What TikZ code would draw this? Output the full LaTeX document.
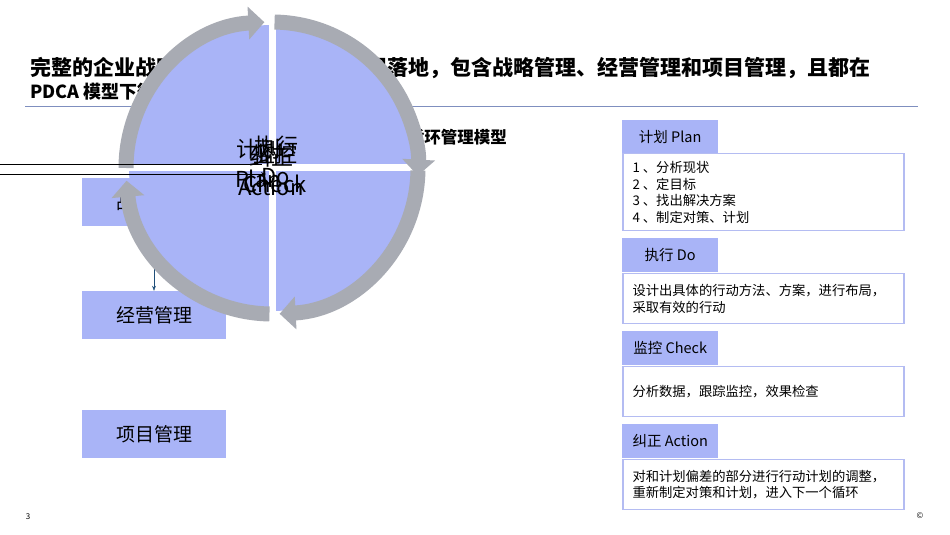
\documentclass[tikz,border=0pt]{standalone}
\usepackage{fontspec}
\setmainfont{Noto Sans CJK SC}
\usetikzlibrary{arrows.meta,calc}
\definecolor{qfill}{HTML}{A9B4F7}
\definecolor{ring}{HTML}{A8ABB3}
\definecolor{rule}{HTML}{7F8FBF}
\definecolor{bord}{HTML}{B4BCF2}
\definecolor{dkb}{HTML}{1F4E79}
\tikzset{
 lbox/.style={fill=qfill,minimum width=144pt,minimum height=48pt,inner sep=0pt,font=\fontsize{19}{22}\selectfont},
 hbox/.style={fill=qfill,minimum width=96pt,minimum height=34pt,inner sep=0pt,anchor=north west,font=\fontsize{14.5}{17}\selectfont},
 bbox/.style={draw=bord,line width=1.5pt,fill=white,minimum width=281pt,anchor=north west,inner sep=0pt},
 btxt/.style={anchor=west,align=left,font=\fontsize{13.3}{16.5}\selectfont},
 arcarrow/.style={ring,line width=15pt,-{Triangle[width=32pt,length=16pt]}},
 ctxt/.style={font=\fontsize{22}{30}\selectfont,align=center,inner sep=0pt}
}
\begin{document}
\begin{tikzpicture}[x=1pt,y=1pt]
\useasboundingbox[fill=white] (0,0) rectangle (950,535);
% title
\node[anchor=west,inner sep=0pt,font=\fontsize{21}{23}\bfseries\selectfont] (t1) at (30,467) {完整的企业战略管理体系需要逐级层层落地，包含战略管理、经营管理和项目管理，且都在};
\node[anchor=west,inner sep=0pt,font=\fontsize{18}{20}\bfseries\selectfont] (t2) at (30,443) {PDCA 模型下循环改进与持续优化};
\draw[rule,line width=1pt] (25,428) -- (918,428);
\node[anchor=east,inner sep=0pt,font=\fontsize{16.5}{18}\bfseries\selectfont] (st) at (507,398) {PDCA 循环管理模型};
% left boxes
\node[lbox] (b1) at (154,333) {战略管理};
\node[lbox] (b2) at (154,220) {经营管理};
\node[lbox] (b3) at (154,101) {项目管理};
\draw[dkb,-{Stealth[length=5pt]}] (154,280) -- (b2.north);
% circle
\coordinate (c) at (272,367);
\fill[qfill] (c) circle[radius=143];
\draw[white,line width=7pt] (272,218) -- (272,516);
\draw[white,line width=7pt] (123,367) -- (421,367);
\draw[arcarrow] ($(c)+(180:146)$) arc[start angle=180,end angle=93,radius=146];
\draw[arcarrow] ($(c)+(89:146)$) arc[start angle=89,end angle=-3,radius=146];
\draw[arcarrow] ($(c)+(-1:146)$) arc[start angle=-1,end angle=-87,radius=146];
\draw[arcarrow] ($(c)+(-91:146)$) arc[start angle=-91,end angle=-175,radius=146];
% lines from left
\coordinate (l1) at (0,371);
\coordinate (l1e) at (262,371);
\coordinate (l2) at (0,361);
\coordinate (l2e) at (266,361);
\draw[black,line width=0.8pt] (l1) -- (l1e);
\draw[black,line width=0.8pt,-{Stealth[length=5pt]}] (l2) -- (l2e);
% center texts
\node[ctxt] (p) at (258,372) {计划\\Plan};
\node[ctxt] (d) at (276,375) {执行\\Do};
\node[ctxt] (k) at (275,367) {监控\\Check};
\node[ctxt] (a) at (271,364) {纠正\\Action};
% right column
\node[hbox] (h1) at (622,415) {计划 Plan};
\node[bbox,minimum height=77pt] (r1) at (622,382) {};
\node[btxt] (r1t) at ([xshift=7pt]r1.west) {1 、分析现状\\2 、定目标\\3 、找出解决方案\\4 、制定对策、计划};
\node[hbox] (h2) at (622,297) {执行 Do};
\node[bbox,minimum height=50pt] (r2) at (622,262) {};
\node[btxt] (r2t) at ([xshift=7pt]r2.west) {设计出具体的行动方法、方案，进行布局，\\采取有效的行动};
\node[hbox] (h3) at (622,204) {监控 Check};
\node[bbox,minimum height=50pt] (r3) at (622,169) {};
\node[btxt] (r3t) at ([xshift=7pt]r3.west) {分析数据，跟踪监控，效果检查};
\node[hbox] (h4) at (622,111) {纠正 Action};
\node[bbox,minimum height=50pt] (r4) at (622,76) {};
\node[btxt] (r4t) at ([xshift=7pt]r4.west) {对和计划偏差的部分进行行动计划的调整，\\重新制定对策和计划，进入下一个循环};
\node[font=\fontsize{8}{9}\selectfont] (pg) at (28,18) {3};
\node[font=\fontsize{8}{9}\selectfont] (cp) at (920,19) {©};
\end{tikzpicture}
\end{document}
